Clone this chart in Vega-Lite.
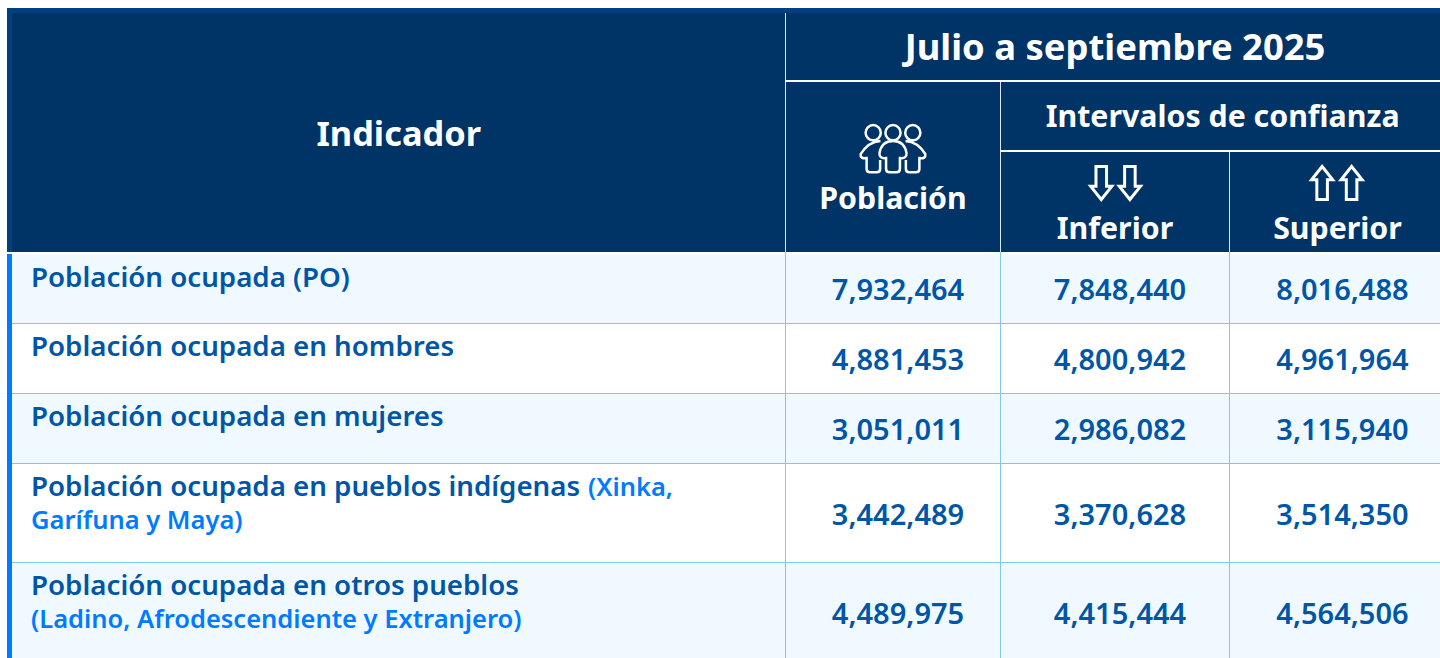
{
"$schema":"https://vega.github.io/schema/vega-lite/v6.json",
"width":1440,"height":658,"padding":0,"autosize":{"type":"none"},"background":"#ffffff",
"config":{"view":{"stroke":null},"text":{"font":"Noto Sans","fontWeight":600}},
"datasets":{
"cells":[
{"col":0,"col2":5,"row":0,"row2":1,"zone":"band"},
{"col":0,"col2":1,"row":1,"row2":4,"zone":"band"},
{"col":1,"col2":5,"row":1,"row2":4,"zone":"header"},
{"col":1,"col2":5,"row":5,"row2":6,"zone":"tint"},
{"col":1,"col2":5,"row":6,"row2":7,"zone":"plain"},
{"col":1,"col2":5,"row":7,"row2":8,"zone":"tint"},
{"col":1,"col2":5,"row":8,"row2":9,"zone":"plain"},
{"col":1,"col2":5,"row":9,"row2":10,"zone":"tint"},
{"col":0,"col2":1,"row":5,"row2":10,"zone":"stripe"}
],
"lines":[
{"col":2,"col2":2,"row":1,"row2":4,"kind":"headThin"},
{"col":3,"col2":3,"row":2,"row2":4,"kind":"headThin"},
{"col":4,"col2":4,"row":3,"row2":4,"kind":"headThin"},
{"col":2,"col2":5,"row":2,"row2":2,"kind":"headThick"},
{"col":3,"col2":5,"row":3,"row2":3,"kind":"headThick"},
{"col":2,"col2":2,"row":4,"row2":10,"kind":"body"},
{"col":3,"col2":3,"row":4,"row2":10,"kind":"body"},
{"col":4,"col2":4,"row":4,"row2":10,"kind":"body"},
{"col":1,"col2":5,"row":6,"row2":6,"kind":"body"},
{"col":1,"col2":5,"row":7,"row2":7,"kind":"body"},
{"col":1,"col2":5,"row":8,"row2":8,"kind":"body"},
{"col":1,"col2":5,"row":9,"row2":9,"kind":"body"}
],
"headers":[
{"col":1.5,"row":2.757,"label":"Indicador","tier":"c"},
{"col":3.5,"row":1.5,"label":"Julio a septiembre 2025","tier":"a"},
{"col":3.97,"row":2.5,"label":"Intervalos de confianza","tier":"b"},
{"col":2.5,"row":3.475,"label":"Población","tier":"b"},
{"col":3.5,"row":3.77,"label":"Inferior","tier":"b"},
{"col":4.513,"row":3.77,"label":"Superior","tier":"b"}
],
"labels":[
{"col":1,"row":5,"label":"Población ocupada (PO)","line":1},
{"col":1,"row":6,"label":"Población ocupada en hombres","line":1},
{"col":1,"row":7,"label":"Población ocupada en mujeres","line":1},
{"col":1,"row":8,"label":"Población ocupada en pueblos indígenas","line":1},
{"col":1,"row":9,"label":"Población ocupada en otros pueblos","line":1}
],
"notes":[
{"col":1.72,"row":8,"label":"(Xinka,","line":1},
{"col":1,"row":8,"label":"Garífuna y Maya)","line":2},
{"col":1,"row":9,"label":"(Ladino, Afrodescendiente y Extranjero)","line":2}
],
"values":[
{"col":2.5,"row":5.5,"value":7932464},{"col":3.5,"row":5.5,"value":7848440},{"col":4.513,"row":5.5,"value":8016488},
{"col":2.5,"row":6.5,"value":4881453},{"col":3.5,"row":6.5,"value":4800942},{"col":4.513,"row":6.5,"value":4961964},
{"col":2.5,"row":7.5,"value":3051011},{"col":3.5,"row":7.5,"value":2986082},{"col":4.513,"row":7.5,"value":3115940},
{"col":2.5,"row":8.5,"value":3442489},{"col":3.5,"row":8.5,"value":3370628},{"col":4.513,"row":8.5,"value":3514350},
{"col":2.5,"row":9.5,"value":4489975},{"col":3.5,"row":9.5,"value":4415444},{"col":4.513,"row":9.5,"value":4564506}
],
"peopleIcon":[{"col":2.5,"row":2.96}],
"downIcons":[{"col":3.44,"row":3.317},{"col":3.565,"row":3.317}],
"upIcons":[{"col":4.44,"row":3.317},{"col":4.58,"row":3.317}]
},
"encoding":{
"x":{"field":"col","type":"quantitative","axis":null,"scale":{"type":"linear","zero":false,"nice":false,"domain":[0,1,2,3,4,5],"range":[7,12,785.5,1000.5,1229.5,1440]}},
"y":{"field":"row","type":"quantitative","axis":null,"scale":{"type":"linear","zero":false,"nice":false,"domain":[0,1,2,3,4,5,6,7,8,9,10],"range":[8,13,81,151,252,254,323.5,393.5,463.5,562.5,661.5]}}
},
"layer":[
{"data":{"name":"cells"},"mark":{"type":"rect","clip":true},"encoding":{
"x2":{"field":"col2"},"y2":{"field":"row2"},
"color":{"field":"zone","type":"nominal","legend":null,"scale":{"domain":["band","header","tint","plain","stripe"],"range":["#004080","#003366","#f0f9ff","#ffffff","#007bff"]}}}},
{"data":{"name":"lines"},"mark":{"type":"rule","clip":true},"encoding":{
"x2":{"field":"col2"},"y2":{"field":"row2"},
"stroke":{"field":"kind","type":"nominal","legend":null,"scale":{"domain":["headThin","headThick","body"],"range":["#dbe6f0","#ffffff","#7cc8ee"]}},
"strokeWidth":{"field":"kind","type":"nominal","legend":null,"scale":{"type":"ordinal","domain":["headThin","headThick","body"],"range":[1,2,1]}}}},
{"data":{"name":"headers"},"transform":[{"filter":"datum.tier=='a'"}],"mark":{"type":"text","color":"#ffffff","fontWeight":700,"fontSize":36.4,"align":"center","baseline":"middle","dy":2},"encoding":{"text":{"field":"label"}}},
{"data":{"name":"headers"},"transform":[{"filter":"datum.tier=='c'"}],"mark":{"type":"text","color":"#ffffff","fontWeight":700,"fontSize":34.4,"align":"center","baseline":"middle","dy":2},"encoding":{"text":{"field":"label"}}},
{"data":{"name":"headers"},"transform":[{"filter":"datum.tier=='b'"}],"mark":{"type":"text","color":"#ffffff","fontWeight":700,"fontSize":30.3,"align":"center","baseline":"middle","dy":1.5},"encoding":{"text":{"field":"label"}}},
{"data":{"name":"labels"},"mark":{"type":"text","color":"#0056a6","fontSize":27.7,"align":"left","baseline":"middle","dx":19,"dy":24.5},"encoding":{"text":{"field":"label"}}},
{"data":{"name":"notes"},"transform":[{"filter":"datum.line==1"}],"mark":{"type":"text","color":"#007bff","fontWeight":600,"fontSize":25.5,"align":"left","baseline":"middle","dx":19,"dy":24.5},"encoding":{"text":{"field":"label"}}},
{"data":{"name":"notes"},"transform":[{"filter":"datum.line==2"}],"mark":{"type":"text","color":"#007bff","fontWeight":600,"fontSize":25.5,"align":"left","baseline":"middle","dx":19,"dy":57},"encoding":{"text":{"field":"label"}}},
{"data":{"name":"values"},"mark":{"type":"text","color":"#0056a6","fontSize":29,"align":"center","baseline":"middle","dx":5,"dy":2.5},"encoding":{"text":{"field":"value","type":"quantitative","format":","}}},
{"data":{"name":"peopleIcon"},"mark":{"type":"point","filled":false,"stroke":"#ffffff","strokeWidth":2.5,"opacity":1,"size":4356,"shape":"M-0.37,-0.47A0.23,0.23 0 1 1 -0.83,-0.47A0.23,0.23 0 1 1 -0.37,-0.47ZM0.23,-0.47A0.23,0.23 0 1 1 -0.23,-0.47A0.23,0.23 0 1 1 0.23,-0.47ZM0.83,-0.47A0.23,0.23 0 1 1 0.37,-0.47A0.23,0.23 0 1 1 0.83,-0.47ZM-0.21,0.3L-0.21,0.62Q-0.21,0.73 -0.1,0.73L0.1,0.73Q0.21,0.73 0.21,0.62L0.21,0.3Q0.42,0.33 0.41,0.15Q0.35,-0.22 0,-0.22Q-0.35,-0.22 -0.41,0.15Q-0.42,0.33 -0.21,0.3ZM-0.38,-0.22Q-0.75,-0.2 -0.98,0.18Q-1,0.33 -0.8,0.3L-0.8,0.62Q-0.8,0.73 -0.69,0.73L-0.5,0.73Q-0.39,0.73 -0.39,0.62L-0.39,0.36M0.38,-0.22Q0.75,-0.2 0.98,0.18Q1,0.33 0.8,0.3L0.8,0.62Q0.8,0.73 0.69,0.73L0.5,0.73Q0.39,0.73 0.39,0.62L0.39,0.36"}},
{"data":{"name":"downIcons"},"mark":{"type":"point","filled":false,"stroke":"#ffffff","strokeWidth":3,"opacity":1,"size":1089,"shape":"M-0.32,-1L0.32,-1L0.32,0.2L0.64,0.2L0,1L-0.64,0.2L-0.32,0.2Z"}},
{"data":{"name":"upIcons"},"mark":{"type":"point","filled":false,"stroke":"#ffffff","strokeWidth":3,"opacity":1,"size":1089,"shape":"M-0.32,1L0.32,1L0.32,-0.2L0.64,-0.2L0,-1L-0.64,-0.2L-0.32,-0.2Z"}}
]
}
